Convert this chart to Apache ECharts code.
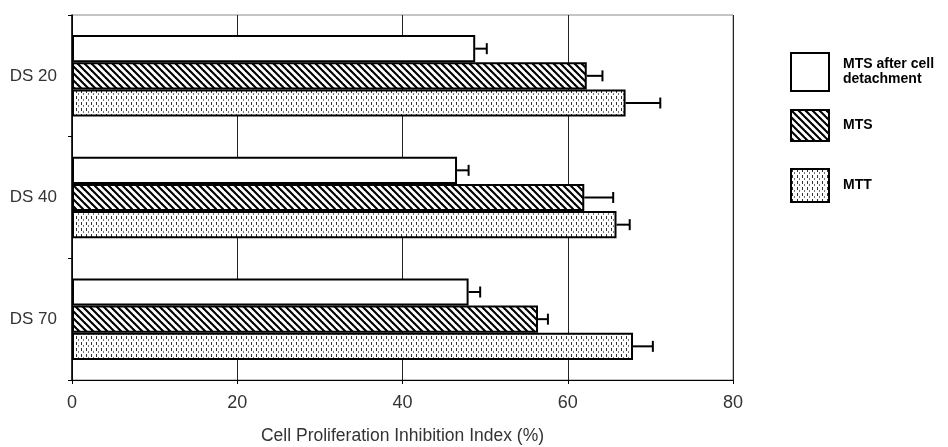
<!DOCTYPE html>
<html>
<head>
<meta charset="utf-8">
<script src="https://cdn.jsdelivr.net/npm/echarts@6/dist/echarts.min.js"></script>
<style>
  html, body { margin: 0; padding: 0; background: #fff; }
  #chart { width: 948px; height: 447px; }
</style>
</head>
<body>
<div id="chart"></div>
<script>
// Inhibition index per dextran sulfate grade, three assay methods (mean, +SD)
const categories = ['DS 20', 'DS 40', 'DS 70'];
const seriesNames = ['MTS after cell detachment', 'MTS', 'MTT'];
const legendLabels = ['MTS after cell\ndetachment', 'MTS', 'MTT'];

const detachedMean = [48.8, 46.6, 48.0];
const detachedSd = [1.4, 1.4, 1.4];
const mtsMean = [62.3, 62.0, 56.4];
const mtsSd = [1.9, 3.5, 1.2];
const mttMean = [67.0, 65.9, 67.9];
const mttSd = [4.2, 1.6, 2.4];

const xTicks = [0, 20, 40, 60, 80];

const CAT_GAP = 0.33;
const FONT = '"Liberation Sans", Arial, sans-serif';

// Fill patterns for the bars
function hatchPattern() {
  const s = 7;
  const c = document.createElement('canvas');
  c.width = s; c.height = s;
  const g = c.getContext('2d');
  g.fillStyle = '#fff';
  g.fillRect(0, 0, s, s);
  g.strokeStyle = '#000';
  g.lineWidth = 2.1;
  for (let k = -1; k <= 1; k++) {
    g.beginPath();
    g.moveTo(k * s - 1, -1);
    g.lineTo(k * s + s + 1, s + 1);
    g.stroke();
  }
  return { image: c, repeat: 'repeat' };
}

function dashPattern() {
  const c = document.createElement('canvas');
  c.width = 5; c.height = 6;
  const g = c.getContext('2d');
  g.fillStyle = '#fff';
  g.fillRect(0, 0, 5, 6);
  g.fillStyle = '#333';
  g.fillRect(1, 0, 1, 3);
  g.fillStyle = '#777';
  g.fillRect(3, 3, 1, 2);
  return { image: c, repeat: 'repeat' };
}

const fills = ['#ffffff', hatchPattern(), dashPattern()];
const means = [detachedMean, mtsMean, mttMean];
const sds = [detachedSd, mtsSd, mttSd];

function errorRenderer(slot) {
  return function (params, api) {
    const cat = api.value(0);
    const lo = api.coord([api.value(1), cat]);
    const hi = api.coord([api.value(2), cat]);
    const band = api.size([0, 1])[1];
    const barW = band * (1 - CAT_GAP) / 3;
    const y = lo[1] + (slot - 1) * barW;
    const cap = 5.5;
    const style = { stroke: '#000', lineWidth: 2 };
    return {
      type: 'group',
      children: [
        { type: 'line', shape: { x1: lo[0], y1: y, x2: hi[0], y2: y }, style },
        { type: 'line', shape: { x1: hi[0], y1: y - cap, x2: hi[0], y2: y + cap }, style }
      ]
    };
  };
}

const barSeries = seriesNames.map((name, i) => ({
  name,
  type: 'bar',
  barGap: '0%',
  barCategoryGap: (CAT_GAP * 100) + '%',
  data: means[i],
  itemStyle: { color: fills[i], borderColor: '#000', borderWidth: 2 },
  emphasis: { disabled: true },
  z: 2
}));

const errSeries = seriesNames.map((name, i) => ({
  type: 'custom',
  renderItem: errorRenderer(i),
  encode: { y: 0, x: [1, 2] },
  data: means[i].map((m, j) => [j, m, m + sds[i][j]]),
  silent: true,
  z: 3
}));

const legendTops = [52, 109, 168];
const legendHeights = [38, 31, 33];

const chart = echarts.init(document.getElementById('chart'), null, { renderer: 'canvas' });
chart.setOption({
  animation: false,
  backgroundColor: '#fff',
  grid: {
    left: 72, right: 215, top: 15, bottom: 67,
    containLabel: false,
    outerBoundsMode: 'none',
    show: true, borderColor: '#8a8a8a', borderWidth: 1
  },
  legend: seriesNames.map((name, i) => ({
    data: [name],
    orient: 'vertical',
    left: 790,
    top: legendTops[i],
    padding: 0,
    itemWidth: 38,
    itemHeight: legendHeights[i],
    icon: 'rect',
    selectedMode: false,
    itemStyle: { borderColor: '#000', borderWidth: 2 },
    formatter: () => legendLabels[i],
    textStyle: {
      fontFamily: FONT, fontWeight: 'bold', fontSize: 14,
      lineHeight: 15, color: '#000', padding: [0, 0, 0, 9]
    }
  })),
  xAxis: {
    type: 'value',
    min: xTicks[0],
    max: xTicks[xTicks.length - 1],
    interval: xTicks[1] - xTicks[0],
    name: 'Cell Proliferation Inhibition Index (%)',
    nameLocation: 'middle',
    nameGap: 47,
    nameTextStyle: { fontFamily: FONT, fontSize: 17.5, color: '#333' },
    axisLine: { show: true, lineStyle: { color: '#000', width: 1 } },
    axisTick: { show: true, length: 4, lineStyle: { color: '#000' } },
    axisLabel: { fontFamily: FONT, fontSize: 18, color: '#333', margin: 14 },
    splitLine: { show: true, lineStyle: { color: '#222', width: 1 } }
  },
  yAxis: {
    type: 'category',
    data: categories,
    inverse: true,
    axisLine: { show: true, lineStyle: { color: '#000', width: 1.5 } },
    axisTick: { show: true, length: 4, lineStyle: { color: '#000' } },
    axisLabel: { fontFamily: FONT, fontSize: 17, color: '#333', margin: 15 },
    splitLine: { show: false }
  },
  series: barSeries.concat(errSeries)
});
</script>
</body>
</html>
